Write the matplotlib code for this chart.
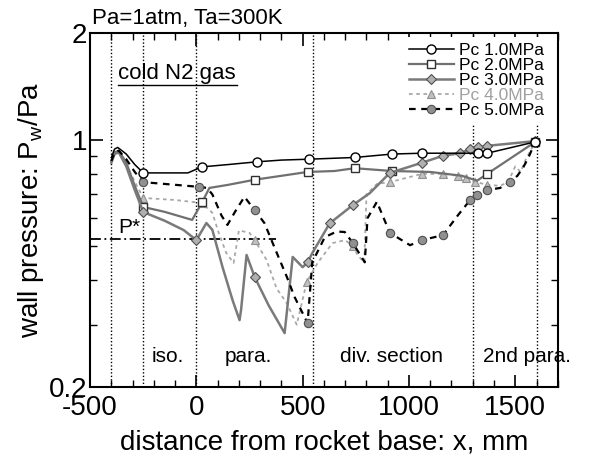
import matplotlib
matplotlib.use("Agg")
import matplotlib.pyplot as plt
from matplotlib.ticker import FixedLocator, FixedFormatter, MultipleLocator, NullFormatter

plt.rcParams['font.family'] = ['Liberation Sans', 'DejaVu Sans']
plt.rcParams['axes.unicode_minus'] = False

# Pc 1.0MPa
x1 = [-400, -385, -370, -330, -290, -250, -150, -40, 25, 150, 283, 400, 528, 745, 920, 1061, 1200, 1325, 1368, 1594]
y1 = [0.89, 0.94, 0.95, 0.91, 0.85, 0.805, 0.805, 0.805, 0.837, 0.85, 0.865, 0.875, 0.88, 0.89, 0.91, 0.915, 0.915, 0.915, 0.915, 0.985]
m1 = [-250, 25, 283, 528, 745, 920, 1061, 1325, 1368, 1594]

# Pc 2.0MPa
x2 = [-400, -385, -365, -330, -290, -250, -150, -20, 28, 61, 150, 274, 400, 523, 650, 745, 920, 1100, 1250, 1320, 1368, 1594]
y2 = [0.87, 0.92, 0.93, 0.86, 0.74, 0.645, 0.625, 0.593, 0.667, 0.73, 0.745, 0.77, 0.79, 0.81, 0.815, 0.83, 0.815, 0.81, 0.79, 0.765, 0.80, 0.985]
m2 = [-250, 28, 274, 523, 745, 920, 1368, 1594]

# Pc 3.0MPa
x3 = [-400, -385, -365, -330, -290, -250, -150, -60, 0, 47, 75, 123, 170, 203, 210, 236, 274, 340, 415, 453, 500, 523, 547, 627, 736, 816, 910, 1061, 1160, 1240, 1288, 1325, 1368, 1594]
y3 = [0.86, 0.91, 0.92, 0.84, 0.72, 0.624, 0.59, 0.555, 0.52, 0.581, 0.556, 0.436, 0.352, 0.309, 0.33, 0.472, 0.409, 0.34, 0.284, 0.466, 0.436, 0.45, 0.48, 0.58, 0.653, 0.706, 0.805, 0.86, 0.90, 0.915, 0.94, 0.95, 0.96, 0.99]
m3 = [-250, 0, 274, 523, 627, 736, 910, 1061, 1160, 1240, 1288, 1325, 1368, 1594]

# Pc 4.0MPa
x4 = [-400, -385, -365, -330, -290, -250, -100, 25, 75, 105, 140, 175, 200, 250, 274, 330, 377, 425, 472, 519, 570, 640, 700, 736, 760, 790, 800, 850, 910, 1061, 1160, 1230, 1270, 1310, 1368, 1430, 1467, 1500, 1525, 1550, 1594]
y4 = [0.87, 0.92, 0.93, 0.85, 0.76, 0.684, 0.675, 0.662, 0.621, 0.545, 0.479, 0.448, 0.554, 0.545, 0.52, 0.457, 0.38, 0.345, 0.30, 0.396, 0.448, 0.51, 0.52, 0.50, 0.47, 0.45, 0.70, 0.75, 0.758, 0.80, 0.80, 0.79, 0.78, 0.76, 0.745, 0.74, 0.76, 0.84, 0.81, 0.88, 0.985]
m4 = [-250, 25, 274, 519, 736, 910, 1061, 1160, 1230, 1270, 1310, 1368, 1594]

# Pc 5.0MPa
x5 = [-400, -385, -365, -330, -290, -250, -100, 14, 50, 75, 118, 146, 185, 226, 274, 320, 377, 425, 462, 523, 545, 604, 660, 698, 736, 792, 805, 849, 910, 1005, 1061, 1160, 1231, 1288, 1321, 1368, 1429, 1476, 1510, 1538, 1561, 1594]
y5 = [0.87, 0.92, 0.93, 0.88, 0.81, 0.758, 0.745, 0.735, 0.73, 0.70, 0.61, 0.574, 0.63, 0.689, 0.632, 0.581, 0.48, 0.41, 0.359, 0.303, 0.45, 0.53, 0.55, 0.548, 0.51, 0.45, 0.60, 0.667, 0.545, 0.503, 0.52, 0.537, 0.612, 0.675, 0.697, 0.72, 0.73, 0.76, 0.79, 0.836, 0.887, 0.985]
m5 = [-250, 14, 274, 523, 736, 910, 1061, 1160, 1288, 1321, 1368, 1476, 1594]

vlines = [-400, -250, 0, 550, 1300, 1600]
p_star = 0.524
regions = ["iso.", "para.", "div. section", "2nd para."]
region_x = [-212, 132, 674, 1349]

fig = plt.figure(figsize=(5.89, 4.58), dpi=100)
ax = fig.add_axes([0.153, 0.155, 0.794, 0.773])

for v in vlines:
    ax.axvline(v, color='black', ls=(0, (1, 1.5)), lw=1, zorder=1)
ax.plot([-500, 375], [p_star, p_star], color='black', ls=(0, (6, 2, 1, 2)), lw=1.3, zorder=1)

def idx(xs, ms):
    return [xs.index(v) for v in ms]

ax.plot(x1, y1, color='black', lw=1.1, marker='o', ms=6.5, mfc='white', mec='black', mew=1,
        markevery=idx(x1, m1), label='Pc 1.0MPa', zorder=4)
ax.plot(x2, y2, color='#707070', lw=1.6, marker='s', ms=6, mfc='white', mec='#303030', mew=1,
        markevery=idx(x2, m2), label='Pc 2.0MPa', zorder=3)
ax.plot(x3, y3, color='#7a7a7a', lw=1.8, marker='D', ms=5.5, mfc='#b0b0b0', mec='#505050', mew=0.8,
        markevery=idx(x3, m3), label='Pc 3.0MPa', zorder=3)
ax.plot(x4, y4, color='#a8a8a8', lw=1.3, ls=(0, (2, 2)), marker='^', ms=6, mfc='#c0c0c0', mec='#909090',
        mew=0.8, markevery=idx(x4, m4), label='Pc 4.0MPa', zorder=2)
ax.plot(x5, y5, color='black', lw=1.6, ls=(0, (3, 2.5)), marker='o', ms=6, mfc='#909090', mec='#505050',
        mew=0.8, markevery=idx(x5, m5), label='Pc 5.0MPa', zorder=3)

ax.set_yscale('log')
ax.set_xlim(-500, 1700)
ax.set_ylim(0.2, 2)
ax.xaxis.set_major_locator(MultipleLocator(500))
ax.xaxis.set_minor_locator(MultipleLocator(100))
ax.yaxis.set_major_locator(FixedLocator([0.2, 1, 2]))
ax.yaxis.set_major_formatter(FixedFormatter(['0.2', '1', '2']))
ax.yaxis.set_minor_locator(FixedLocator([0.3, 0.4, 0.5, 0.6, 0.7, 0.8, 0.9]))
ax.yaxis.set_minor_formatter(NullFormatter())
ax.tick_params(which='both', direction='in', top=True, right=True, labelsize=20)
ax.tick_params(axis='x', pad=6)
ax.tick_params(axis='y', pad=2)
ax.tick_params(which='major', length=9, width=1.2)
ax.tick_params(which='minor', length=5, width=1)
for s in ax.spines.values():
    s.set_linewidth(1.5)

ax.set_xlabel('distance from rocket base: x, mm', fontsize=20, labelpad=6)
ax.set_ylabel('wall pressure: P$_\\mathregular{w}$/Pa', fontsize=20, labelpad=2)

ax.text(0.005, 1.012, 'Pa=1atm, Ta=300K', transform=ax.transAxes, fontsize=16, ha='left', va='bottom')
ax.text(-370, 1.48, 'cold N2 gas', fontsize=16, ha='left', va='baseline')
ax.plot([-370, 192], [1.43, 1.43], color='black', lw=1)
ax.text(-367, 0.545, 'P*', fontsize=15, ha='left', va='baseline')
for lab, xp in zip(regions, region_x):
    ax.text(xp, 0.235, lab, fontsize=15, ha='left', va='baseline')

leg = ax.legend(loc='upper right', bbox_to_anchor=(1.0, 1.012), fontsize=12.5, frameon=True,
                framealpha=1, edgecolor='none', facecolor='white', fancybox=False,
                handlelength=2.6, handletextpad=0.3, labelspacing=0.0, borderpad=0.3)
leg.set_zorder(10)
for t in leg.get_texts():
    if t.get_text() == 'Pc 4.0MPa':
        t.set_color('#a0a0a0')

fig.savefig('out.png', dpi=100)
